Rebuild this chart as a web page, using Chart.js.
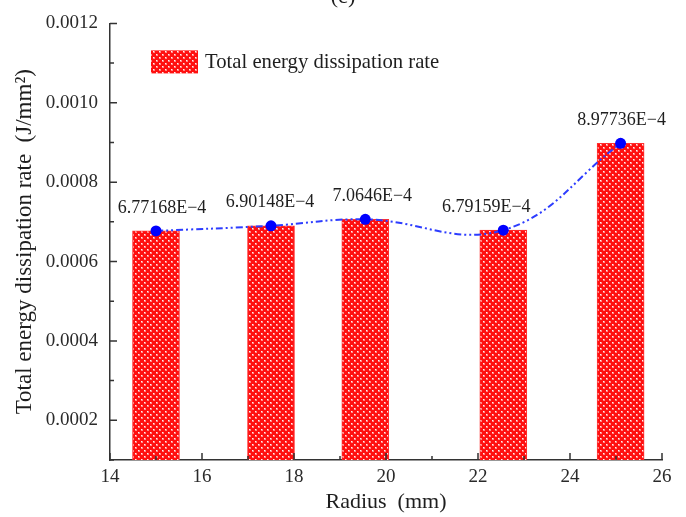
<!DOCTYPE html>
<html>
<head>
<meta charset="utf-8">
<title>Total energy dissipation rate</title>
<script src="https://cdn.jsdelivr.net/npm/chart.js@4.4.1/dist/chart.umd.min.js"></script>
<style>
  html, body { margin: 0; padding: 0; background: #fff; }
  #wrap { width: 686px; height: 517px; position: relative; }
</style>
</head>
<body>
<div id="wrap"><canvas id="energyChart"></canvas></div>
<script>
// Radius (mm) and measured total energy dissipation rate (J/mm²)
const radius = [15, 17.5, 19.55, 22.55, 25.1];
const dissipationRate = [6.77168e-4, 6.90148e-4, 7.0646e-4, 6.79159e-4, 8.97736e-4];

// Labelled ticks (minor ticks in between are left unlabelled)
const xTickLabels = [14, 16, 18, 20, 22, 24, 26];
const yTickLabels = [0.0002, 0.0004, 0.0006, 0.0008, 0.0010, 0.0012];

const panelTag = '(c)';
const legendLabel = 'Total energy dissipation rate';
const xTitle = 'Radius  (mm)';
const yTitle = 'Total energy dissipation rate  (J/mm\u00b2)';

const SERIF = '"Liberation Serif", "Times New Roman", serif';
const AXIS_COLOR = '#333';
const TEXT_COLOR = '#1e1e1e';
const LINE_BLUE = '#2d3dff';

// small sideways nudges so value labels don't sit on the curve
const labelShiftX = [6, -1, 7, -17, 1];

// ── Helpers ─────────────────────────────────────────────────────────────────

function formatSci(value) {
  const mantissa = parseFloat((value * 1e4).toPrecision(6));
  return `${mantissa}E\u22124`;
}

function isLabelled(list, value) {
  return list.some(t => Math.abs(t - value) < 1e-9);
}

// bright red fill with a staggered grid of small white dots
function makeDotPattern(ctx) {
  const tile = document.createElement('canvas');
  tile.width = 6;
  tile.height = 6;
  const c = tile.getContext('2d');
  c.fillStyle = '#ff1010';
  c.fillRect(0, 0, 6, 6);
  c.fillStyle = 'rgba(255,255,255,0.95)';
  c.fillRect(0, 0, 1, 1);
  c.fillRect(3, 3, 1, 1);
  c.fillStyle = 'rgba(255,255,255,0.5)';
  c.fillRect(1, 0, 1, 1);
  c.fillRect(0, 1, 1, 1);
  c.fillRect(4, 3, 1, 1);
  c.fillRect(3, 4, 1, 1);
  c.fillRect(1, 1, 1, 1);
  c.fillRect(4, 4, 1, 1);
  return ctx.createPattern(tile, 'repeat');
}

// ── Plugins ─────────────────────────────────────────────────────────────────

// ticks point into the plot area, long ones where a label sits
const inwardTicks = {
  id: 'inwardTicks',
  afterDraw(chart) {
    const { ctx, scales: { x, y } } = chart;
    ctx.save();
    ctx.strokeStyle = AXIS_COLOR;
    ctx.lineWidth = 1.5;
    ctx.beginPath();
    x.ticks.forEach(t => {
      const px = x.getPixelForValue(t.value);
      const len = isLabelled(xTickLabels, t.value) ? 7 : 4;
      ctx.moveTo(px, x.top);
      ctx.lineTo(px, x.top - len);
    });
    y.ticks.forEach(t => {
      const py = y.getPixelForValue(t.value);
      const len = isLabelled(yTickLabels, t.value) ? 7 : 4;
      ctx.moveTo(y.right, py);
      ctx.lineTo(y.right + len, py);
    });
    ctx.stroke();
    ctx.restore();
  },
};

// legend box inside the plot, top left
const insideLegend = {
  id: 'insideLegend',
  afterDraw(chart) {
    const { ctx, chartArea } = chart;
    const bx = chartArea.left + 41;
    const by = chartArea.top + 27;
    ctx.save();
    ctx.fillStyle = chart.data.datasets[1].backgroundColor;
    ctx.fillRect(bx, by, 47, 23);
    ctx.fillStyle = TEXT_COLOR;
    ctx.font = `20.7px ${SERIF}`;
    ctx.textBaseline = 'middle';
    ctx.textAlign = 'left';
    ctx.fillText(legendLabel, bx + 54, by + 12);
    ctx.restore();
  },
};

// value labels above each point of the fitted curve
const valueLabels = {
  id: 'valueLabels',
  afterDatasetsDraw(chart) {
    const { ctx } = chart;
    const meta = chart.getDatasetMeta(0);
    ctx.save();
    ctx.fillStyle = TEXT_COLOR;
    ctx.font = `18px ${SERIF}`;
    ctx.textAlign = 'center';
    ctx.textBaseline = 'middle';
    meta.data.forEach((pt, i) => {
      ctx.fillText(formatSci(dissipationRate[i]), pt.x + labelShiftX[i], pt.y - 23);
    });
    ctx.restore();
  },
};

// panel letter, cut at the top edge
const panelLetter = {
  id: 'panelLetter',
  afterDraw(chart) {
    const { ctx } = chart;
    ctx.save();
    ctx.fillStyle = TEXT_COLOR;
    ctx.font = `22px ${SERIF}`;
    ctx.textAlign = 'center';
    ctx.textBaseline = 'alphabetic';
    ctx.fillText(panelTag, chart.width / 2, 3);
    ctx.restore();
  },
};

// ── Chart ───────────────────────────────────────────────────────────────────

function renderChart() {
  const canvas = document.getElementById('energyChart');
  const ctx = canvas.getContext('2d');
  const dots = makeDotPattern(ctx);
  const points = radius.map((r, i) => ({ x: r, y: dissipationRate[i] }));

  new Chart(ctx, {
    type: 'bar',
    data: {
      datasets: [
        {
          type: 'line',
          label: 'fit',
          data: points,
          borderColor: LINE_BLUE,
          borderWidth: 2,
          borderDash: [7, 3, 2, 3, 2, 3],
          tension: 0.4,
          fill: false,
          pointRadius: 5.5,
          pointBackgroundColor: '#0000ff',
          pointBorderWidth: 0,
          order: 0,
        },
        {
          type: 'bar',
          label: legendLabel,
          data: points,
          backgroundColor: dots,
          borderColor: '#ff3030',
          borderWidth: 1,
          barThickness: 47,
          order: 1,
        },
      ],
    },
    options: {
      responsive: false,
      animation: false,
      events: [],
      layout: { padding: { left: 0, right: 24, top: 18, bottom: 0 } },
      plugins: {
        legend: { display: false },
        tooltip: { enabled: false },
      },
      scales: {
        x: {
          type: 'linear',
          min: 14,
          max: 26,
          offset: false,
          grid: { display: false, drawTicks: false },
          border: { display: true, color: AXIS_COLOR, width: 1.5 },
          ticks: {
            stepSize: 1,
            autoSkip: false,
            maxRotation: 0,
            padding: 6,
            color: '#2a2a2a',
            font: { family: SERIF, size: 19 },
            callback: v => (isLabelled(xTickLabels, v) ? String(v) : ''),
          },
          title: {
            display: true,
            text: xTitle,
            color: TEXT_COLOR,
            font: { family: SERIF, size: 22 },
            padding: { top: 0, bottom: 2 },
          },
          afterFit: scale => { scale.height = 57; },
        },
        y: {
          min: 0.0001,
          max: 0.0012,
          grid: { display: false, drawTicks: false },
          border: { display: true, color: AXIS_COLOR, width: 1.5 },
          ticks: {
            stepSize: 0.0001,
            autoSkip: false,
            padding: 12,
            color: '#2a2a2a',
            font: { family: SERIF, size: 19 },
            callback: v => (isLabelled(yTickLabels, v) ? v.toFixed(4) : ''),
          },
          title: {
            display: true,
            text: yTitle,
            color: TEXT_COLOR,
            font: { family: SERIF, size: 23 },
            padding: { top: 11, bottom: 0 },
          },
          afterFit: scale => { scale.width = 110; },
        },
      },
    },
    plugins: [inwardTicks, insideLegend, valueLabels, panelLetter],
  });
}

document.getElementById('energyChart').width = 686;
document.getElementById('energyChart').height = 517;
renderChart();
</script>
</body>
</html>
